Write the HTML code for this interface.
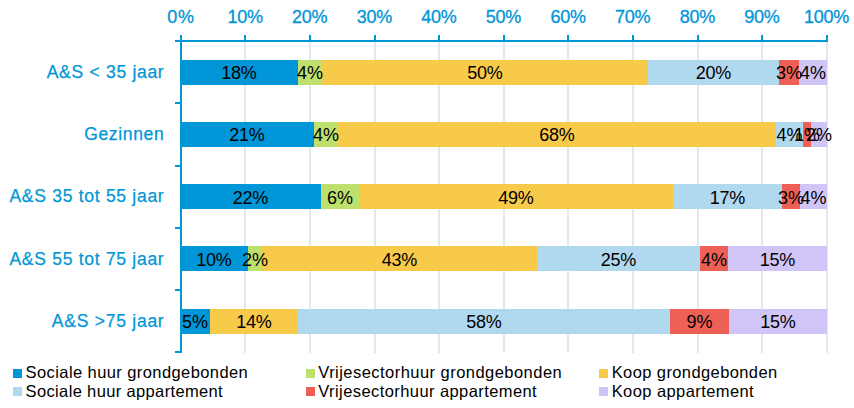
<!DOCTYPE html><html><head><meta charset="utf-8"><title>Chart</title><style>html,body{margin:0;padding:0;background:#fff}svg{display:block}text{font-family:"Liberation Sans",sans-serif}</style></head><body>
<svg width="854" height="408" viewBox="0 0 854 408">
<rect width="854" height="408" fill="#fff"/>
<rect x="244" y="42" width="2" height="311" fill="#e0e8f6"/>
<rect x="309" y="42" width="2" height="311" fill="#e0e8f6"/>
<rect x="374" y="42" width="2" height="311" fill="#e0e8f6"/>
<rect x="438" y="42" width="2" height="311" fill="#e0e8f6"/>
<rect x="503" y="42" width="2" height="311" fill="#e0e8f6"/>
<rect x="567" y="42" width="2" height="311" fill="#e0e8f6"/>
<rect x="632" y="42" width="2" height="311" fill="#e0e8f6"/>
<rect x="697" y="42" width="2" height="311" fill="#e0e8f6"/>
<rect x="761" y="42" width="2" height="311" fill="#e0e8f6"/>
<rect x="826" y="42" width="2" height="311" fill="#e0e8f6"/>
<rect x="180" y="60" width="118" height="25" fill="#0096d7"/>
<rect x="298" y="60" width="24" height="25" fill="#bee06c"/>
<rect x="322" y="60" width="326" height="25" fill="#f8ca4a"/>
<rect x="648" y="60" width="131" height="25" fill="#b0d9ef"/>
<rect x="779" y="60" width="20" height="25" fill="#ee6055"/>
<rect x="799" y="60" width="28" height="25" fill="#d1c4f7"/>
<rect x="180" y="122" width="134" height="25" fill="#0096d7"/>
<rect x="314" y="122" width="24" height="25" fill="#bee06c"/>
<rect x="338" y="122" width="438" height="25" fill="#f8ca4a"/>
<rect x="776" y="122" width="27" height="25" fill="#b0d9ef"/>
<rect x="803" y="122" width="8" height="25" fill="#ee6055"/>
<rect x="811" y="122" width="16" height="25" fill="#d1c4f7"/>
<rect x="180" y="184" width="141" height="25" fill="#0096d7"/>
<rect x="321" y="184" width="38" height="25" fill="#bee06c"/>
<rect x="359" y="184" width="314" height="25" fill="#f8ca4a"/>
<rect x="673" y="184" width="109" height="25" fill="#b0d9ef"/>
<rect x="782" y="184" width="18" height="25" fill="#ee6055"/>
<rect x="800" y="184" width="27" height="25" fill="#d1c4f7"/>
<rect x="180" y="246" width="68" height="25" fill="#0096d7"/>
<rect x="248" y="246" width="14" height="25" fill="#bee06c"/>
<rect x="262" y="246" width="275" height="25" fill="#f8ca4a"/>
<rect x="537" y="246" width="163" height="25" fill="#b0d9ef"/>
<rect x="700" y="246" width="28" height="25" fill="#ee6055"/>
<rect x="728" y="246" width="99" height="25" fill="#d1c4f7"/>
<rect x="180" y="309" width="30" height="25" fill="#0096d7"/>
<rect x="210" y="309" width="88" height="25" fill="#f8ca4a"/>
<rect x="298" y="309" width="372" height="25" fill="#b0d9ef"/>
<rect x="670" y="309" width="59" height="25" fill="#ee6055"/>
<rect x="729" y="309" width="98" height="25" fill="#d1c4f7"/>
<rect x="175" y="40" width="653" height="2" fill="#0096d7"/>
<rect x="180" y="35" width="2" height="318" fill="#0096d7"/>
<rect x="244" y="35" width="2" height="6" fill="#0096d7"/>
<rect x="309" y="35" width="2" height="6" fill="#0096d7"/>
<rect x="374" y="35" width="2" height="6" fill="#0096d7"/>
<rect x="438" y="35" width="2" height="6" fill="#0096d7"/>
<rect x="503" y="35" width="2" height="6" fill="#0096d7"/>
<rect x="567" y="35" width="2" height="6" fill="#0096d7"/>
<rect x="632" y="35" width="2" height="6" fill="#0096d7"/>
<rect x="697" y="35" width="2" height="6" fill="#0096d7"/>
<rect x="761" y="35" width="2" height="6" fill="#0096d7"/>
<rect x="826" y="35" width="2" height="6" fill="#0096d7"/>
<rect x="175" y="102" width="6" height="2" fill="#0096d7"/>
<rect x="175" y="165" width="6" height="2" fill="#0096d7"/>
<rect x="175" y="227" width="6" height="2" fill="#0096d7"/>
<rect x="175" y="289" width="6" height="2" fill="#0096d7"/>
<rect x="175" y="351" width="6" height="2" fill="#0096d7"/>
<text x="180.6" y="23.3" font-size="18" fill="#0096d7" stroke="#0096d7" stroke-width="0.3" text-anchor="middle" textLength="26.6" lengthAdjust="spacing">0%</text>
<text x="245.2" y="23.3" font-size="18" fill="#0096d7" stroke="#0096d7" stroke-width="0.3" text-anchor="middle" textLength="35.5" lengthAdjust="spacing">10%</text>
<text x="309.8" y="23.3" font-size="18" fill="#0096d7" stroke="#0096d7" stroke-width="0.3" text-anchor="middle" textLength="35.5" lengthAdjust="spacing">20%</text>
<text x="374.4" y="23.3" font-size="18" fill="#0096d7" stroke="#0096d7" stroke-width="0.3" text-anchor="middle" textLength="35.5" lengthAdjust="spacing">30%</text>
<text x="439.0" y="23.3" font-size="18" fill="#0096d7" stroke="#0096d7" stroke-width="0.3" text-anchor="middle" textLength="35.5" lengthAdjust="spacing">40%</text>
<text x="503.6" y="23.3" font-size="18" fill="#0096d7" stroke="#0096d7" stroke-width="0.3" text-anchor="middle" textLength="35.5" lengthAdjust="spacing">50%</text>
<text x="568.2" y="23.3" font-size="18" fill="#0096d7" stroke="#0096d7" stroke-width="0.3" text-anchor="middle" textLength="35.5" lengthAdjust="spacing">60%</text>
<text x="632.8" y="23.3" font-size="18" fill="#0096d7" stroke="#0096d7" stroke-width="0.3" text-anchor="middle" textLength="35.5" lengthAdjust="spacing">70%</text>
<text x="697.4" y="23.3" font-size="18" fill="#0096d7" stroke="#0096d7" stroke-width="0.3" text-anchor="middle" textLength="35.5" lengthAdjust="spacing">80%</text>
<text x="762.0" y="23.3" font-size="18" fill="#0096d7" stroke="#0096d7" stroke-width="0.3" text-anchor="middle" textLength="35.5" lengthAdjust="spacing">90%</text>
<text x="826.6" y="23.3" font-size="18" fill="#0096d7" stroke="#0096d7" stroke-width="0.3" text-anchor="middle" textLength="45.3" lengthAdjust="spacing">100%</text>
<text x="46.7" y="77.8" font-size="17.5" fill="#0096d7" stroke="#0096d7" stroke-width="0.25" textLength="117.0" lengthAdjust="spacing">A&amp;S &lt; 35 jaar</text>
<text x="84.2" y="139.8" font-size="17.5" fill="#0096d7" stroke="#0096d7" stroke-width="0.25" textLength="79.5" lengthAdjust="spacing">Gezinnen</text>
<text x="9.4" y="201.8" font-size="17.5" fill="#0096d7" stroke="#0096d7" stroke-width="0.25" textLength="154.3" lengthAdjust="spacing">A&amp;S 35 tot 55 jaar</text>
<text x="9.4" y="264.6" font-size="17.5" fill="#0096d7" stroke="#0096d7" stroke-width="0.25" textLength="154.3" lengthAdjust="spacing">A&amp;S 55 tot 75 jaar</text>
<text x="51.8" y="326.8" font-size="17.5" fill="#0096d7" stroke="#0096d7" stroke-width="0.25" textLength="111.9" lengthAdjust="spacing">A&amp;S &gt;75 jaar</text>
<text x="239.0" y="79.3" font-size="18" fill="#000" text-anchor="middle" textLength="35.7" lengthAdjust="spacing">18%</text>
<text x="310.0" y="79.3" font-size="18" fill="#000" text-anchor="middle" textLength="26.0" lengthAdjust="spacing">4%</text>
<text x="485.0" y="79.3" font-size="18" fill="#000" text-anchor="middle" textLength="35.7" lengthAdjust="spacing">50%</text>
<text x="713.5" y="79.3" font-size="18" fill="#000" text-anchor="middle" textLength="35.7" lengthAdjust="spacing">20%</text>
<text x="789.0" y="79.3" font-size="18" fill="#000" text-anchor="middle" textLength="26.0" lengthAdjust="spacing">3%</text>
<text x="813.0" y="79.3" font-size="18" fill="#000" text-anchor="middle" textLength="26.0" lengthAdjust="spacing">4%</text>
<text x="247.0" y="141.4" font-size="18" fill="#000" text-anchor="middle" textLength="35.7" lengthAdjust="spacing">21%</text>
<text x="326.0" y="141.4" font-size="18" fill="#000" text-anchor="middle" textLength="26.0" lengthAdjust="spacing">4%</text>
<text x="557.0" y="141.4" font-size="18" fill="#000" text-anchor="middle" textLength="35.7" lengthAdjust="spacing">68%</text>
<text x="789.5" y="141.4" font-size="18" fill="#000" text-anchor="middle" textLength="26.0" lengthAdjust="spacing">4%</text>
<text x="807.0" y="141.4" font-size="18" fill="#000" text-anchor="middle" textLength="26.0" lengthAdjust="spacing">1%</text>
<text x="819.0" y="141.4" font-size="18" fill="#000" text-anchor="middle" textLength="26.0" lengthAdjust="spacing">2%</text>
<text x="250.5" y="203.6" font-size="18" fill="#000" text-anchor="middle" textLength="35.7" lengthAdjust="spacing">22%</text>
<text x="340.0" y="203.6" font-size="18" fill="#000" text-anchor="middle" textLength="26.0" lengthAdjust="spacing">6%</text>
<text x="516.0" y="203.6" font-size="18" fill="#000" text-anchor="middle" textLength="35.7" lengthAdjust="spacing">49%</text>
<text x="727.5" y="203.6" font-size="18" fill="#000" text-anchor="middle" textLength="35.7" lengthAdjust="spacing">17%</text>
<text x="791.0" y="203.6" font-size="18" fill="#000" text-anchor="middle" textLength="26.0" lengthAdjust="spacing">3%</text>
<text x="813.5" y="203.6" font-size="18" fill="#000" text-anchor="middle" textLength="26.0" lengthAdjust="spacing">4%</text>
<text x="214.0" y="266" font-size="18" fill="#000" text-anchor="middle" textLength="35.7" lengthAdjust="spacing">10%</text>
<text x="255.0" y="266" font-size="18" fill="#000" text-anchor="middle" textLength="26.0" lengthAdjust="spacing">2%</text>
<text x="399.5" y="266" font-size="18" fill="#000" text-anchor="middle" textLength="35.7" lengthAdjust="spacing">43%</text>
<text x="618.5" y="266" font-size="18" fill="#000" text-anchor="middle" textLength="35.7" lengthAdjust="spacing">25%</text>
<text x="714.0" y="266" font-size="18" fill="#000" text-anchor="middle" textLength="26.0" lengthAdjust="spacing">4%</text>
<text x="777.5" y="266" font-size="18" fill="#000" text-anchor="middle" textLength="35.7" lengthAdjust="spacing">15%</text>
<text x="195.0" y="328" font-size="18" fill="#000" text-anchor="middle" textLength="26.0" lengthAdjust="spacing">5%</text>
<text x="254.0" y="328" font-size="18" fill="#000" text-anchor="middle" textLength="35.7" lengthAdjust="spacing">14%</text>
<text x="484.0" y="328" font-size="18" fill="#000" text-anchor="middle" textLength="35.7" lengthAdjust="spacing">58%</text>
<text x="699.5" y="328" font-size="18" fill="#000" text-anchor="middle" textLength="26.0" lengthAdjust="spacing">9%</text>
<text x="778.0" y="328" font-size="18" fill="#000" text-anchor="middle" textLength="35.7" lengthAdjust="spacing">15%</text>
<rect x="13" y="369" width="9" height="9" fill="#0096d7"/>
<text x="25.6" y="378.0" font-size="16.5" fill="#000" textLength="222.2" lengthAdjust="spacing">Sociale huur grondgebonden</text>
<rect x="13" y="387" width="9" height="9" fill="#b0d9ef"/>
<text x="25.6" y="396.8" font-size="16.5" fill="#000" textLength="197.1" lengthAdjust="spacing">Sociale huur appartement</text>
<rect x="306" y="369" width="9" height="9" fill="#bee06c"/>
<text x="318.3" y="378.0" font-size="16.5" fill="#000" textLength="243.4" lengthAdjust="spacing">Vrijesectorhuur grondgebonden</text>
<rect x="306" y="387" width="9" height="9" fill="#ee6055"/>
<text x="318.3" y="396.8" font-size="16.5" fill="#000" textLength="218.4" lengthAdjust="spacing">Vrijesectorhuur appartement</text>
<rect x="599" y="369" width="9" height="9" fill="#f8ca4a"/>
<text x="611.7" y="378.0" font-size="16.5" fill="#000" textLength="165.5" lengthAdjust="spacing">Koop grondgebonden</text>
<rect x="599" y="387" width="9" height="9" fill="#d1c4f7"/>
<text x="611.7" y="396.8" font-size="16.5" fill="#000" textLength="142.0" lengthAdjust="spacing">Koop appartement</text>
</svg></body></html>
